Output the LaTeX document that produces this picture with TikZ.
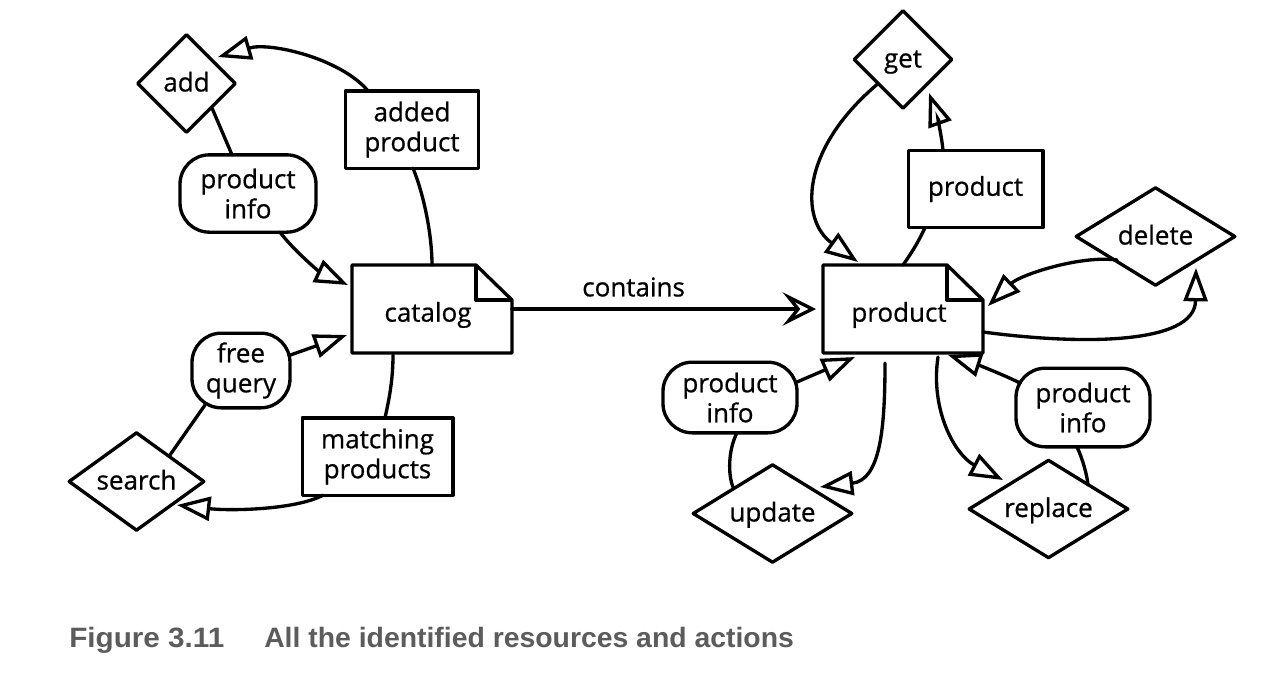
\documentclass[tikz,border=0pt]{standalone}
\usepackage{fontspec}
\setmainfont{Open Sans}[FakeBold=0.7]
\newfontfamily\capfont{Liberation Sans}
\usetikzlibrary{arrows.meta,calc,shapes.geometric}
\definecolor{capgray}{RGB}{92,92,92}
\newcommand{\dtext}[1]{\raisebox{-6pt}[0pt][0pt]{\makebox[0pt]{#1}}}
\newcommand{\ntext}[1]{\raisebox{-9.5pt}[0pt][0pt]{\makebox[0pt]{\hspace*{-6pt}#1}}}
\tikzset{
  lw/.style={line width=2.5pt},
  txt/.style={font=\fontsize{19.5}{22.5}\selectfont, align=center, text=black},
  resbox/.style={txt, draw, lw, rectangle, inner sep=0pt, outer sep=0pt, line join=round},
  infobox/.style={txt, draw, lw, rectangle, rounded corners=22pt, inner sep=0pt, outer sep=0pt},
  notebox/.style={txt, rectangle, inner sep=0pt, outer sep=0pt},
  act/.style={txt, draw, lw, diamond, inner sep=0pt, outer sep=0pt, line join=round},
  conn/.style={lw, line cap=round},
  arr/.style={conn, -{Triangle[open, length=25pt, width=18pt]}},
  barb/.style={conn, -{Stealth[open, length=25pt, width=25pt, inset=10pt]}},
  notedraw/.style={lw, line join=round}
}
\begin{document}
\begin{tikzpicture}[x=0.75pt,y=-0.75pt]
\useasboundingbox[fill=white] (0,0) rectangle (1275,697);

% left part
\node[act, minimum width=73pt, minimum height=73pt] (add) at (186.5,83.5) {\dtext{add}};
\node[resbox, minimum width=100pt, minimum height=58pt] (addedprod) at (412,129.5) {added\\product};
\node[infobox, minimum width=102pt, minimum height=58pt] (pinfoL) at (248,193.5) {product\\info};
\node[notebox, minimum width=120pt, minimum height=66pt] (catalog) at (432,309) {\ntext{catalog}};
\node[infobox, minimum width=73.5pt, minimum height=56pt] (freeq) at (241,370.5) {free\\query};
\node[act, minimum width=101pt, minimum height=73pt] (search) at (136.5,481.5) {\dtext{search}};
\node[resbox, minimum width=113pt, minimum height=58pt] (matching) at (377.5,456.5) {matching\\products};

% right part
\node[act, minimum width=73pt, minimum height=73pt] (get) at (903,59.5) {\dtext{get}};
\node[resbox, minimum width=101pt, minimum height=58pt] (prodtop) at (975.5,189) {product};
\node[act, minimum width=119pt, minimum height=73pt] (delete) at (1155.5,236.5) {\dtext{delete}};
\node[notebox, minimum width=120pt, minimum height=66pt] (product) at (903,309) {\ntext{product}};
\node[infobox, minimum width=100.5pt, minimum height=53pt] (pinfoBL) at (730,397.5) {product\\info};
\node[infobox, minimum width=100.5pt, minimum height=59pt] (pinfoBR) at (1083,407.5) {product\\info};
\node[act, minimum width=119pt, minimum height=73pt] (update) at (772.5,513.5) {\dtext{update}};
\node[act, minimum width=119pt, minimum height=73pt] (replace) at (1048.5,509) {\dtext{replace}};

% note shapes (folded corner)
\foreach \n in {catalog,product}{
  \draw[notedraw] (\n.north west) -- ($(\n.north east)+(-36,0)$) -- ($(\n.north east)+(0,35)$) -- (\n.south east) -- (\n.south west) -- cycle;
  \draw[notedraw] ($(\n.north east)+(-36,0)$) |- ($(\n.north east)+(0,35)$);
}

% left connectors
\draw[arr] ($(addedprod.north)+(-44,0)$) .. controls (340,58) and (270,42) .. ($(add.center)+(31.5,-26.5)$);
\draw[conn] ($(add.center)+(25.5,24.5)$) -- ($(pinfoL.north)+(-16,0)$);
\draw[arr] ($(pinfoL.south)+(32,0)$) .. controls (295,252) and (320,272) .. ($(catalog.west)+(-4,-24)$);
\draw[conn] ($(addedprod.south)+(1,0)$) .. controls (424,195) and (432,235) .. (catalog.north);
\draw[arr] ($(freeq.east)+(-1,-15)$) -- ($(catalog.west)+(-5,26)$);
\draw[conn] ($(search.center)+(33.5,-26.5)$) -- ($(freeq.center)+(-36,34.5)$);
\draw[conn] ($(catalog.south)+(-39,2)$) .. controls (393,380) and (389,400) .. ($(matching.north)+(7.5,0)$);
\draw[arr] ($(matching.south)+(-54.5,0)$) .. controls (295,510) and (230,511) .. ($(search.center)+(40.5,23.5)$);

% contains
\draw[barb] (catalog.east) -- node[txt, pos=0.4, yshift=16.5pt] {contains} ($(product.west)+(-7,0)$);

% right connectors
\draw[arr] ($(get.center)+(-26,25)$) .. controls (800,150) and (800,220) .. ($(product.north)+(-45,-3)$);
\draw[arr] ($(prodtop.north)+(-32.5,0)$) .. controls (941,130) and (935,110) .. ($(get.center)+(26,33.5)$);
\draw[conn] ($(prodtop.south)+(-50.5,0)$) .. controls (917,245) and (908,258) .. (product.north);
\draw[arr] ($(delete.center)+(-38.5,23.5)$) .. controls (1080,255) and (1020,275) .. ($(product.east)+(5,-3)$);
\draw[arr] ($(product.east)+(0,23)$) .. controls (1080,345) and (1195,345) .. ($(delete.center)+(40.5,31.5)$);
\draw[arr] ($(pinfoBL.east)+(0,-15.5)$) -- ($(product.south)+(-48,4)$);
\draw[arr] ($(product.south)+(-18,10)$) .. controls (885,430) and (880,480) .. ($(update.center)+(47.5,-26.5)$);
\draw[conn] ($(pinfoBL.south)+(7,0)$) .. controls (728,450) and (728,475) .. ($(update.center)+(-39.5,-26.5)$);
\draw[arr] ($(product.south)+(35,4)$) .. controls (930,410) and (955,455) .. ($(replace.center)+(-45.5,-29)$);
\draw[arr] ($(pinfoBR.center)+(-63,-24.5)$) .. controls (1000,373) and (970,362) .. ($(product.south)+(45,2)$);
\draw[conn] ($(pinfoBR.south)+(-6,0)$) .. controls (1083,460) and (1087,475) .. ($(replace.center)+(39.5,-24)$);

% caption
\node[anchor=base west, inner sep=0pt, text=capgray, font=\capfont\bfseries\fontsize{21}{24}\selectfont] (capnum) at (69,647) {\scalebox{1.06}[1]{Figure 3.11}};
\node[anchor=base west, inner sep=0pt, text=capgray, font=\capfont\bfseries\fontsize{21}{24}\selectfont] (captext) at (264,647) {\scalebox{1.013}[1]{All the identified resources and actions}};
\end{tikzpicture}
\end{document}
